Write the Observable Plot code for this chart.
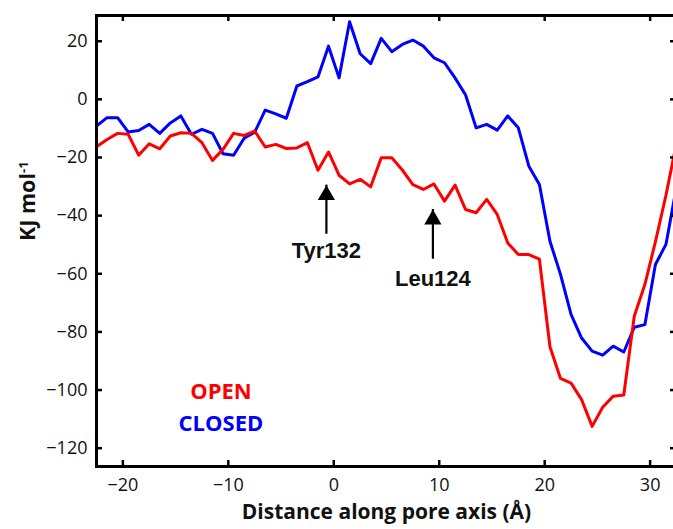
<!DOCTYPE html>
<html>
<head>
<meta charset="utf-8">
<script src="https://cdn.jsdelivr.net/npm/d3@7"></script>
<script src="https://cdn.jsdelivr.net/npm/@observablehq/plot@0.6"></script>
<style>
  html, body { margin: 0; padding: 0; background: #fff; overflow: hidden; }
  #chart { width: 673px; height: 529px; overflow: hidden; }
  #chart svg { max-width: none !important; }
</style>
</head>
<body>
<div id="chart"></div>
<script>
// Distance along pore axis (Å)
const distance = [-22.5, -21.5, -20.5, -19.5, -18.5, -17.5, -16.5, -15.5, -14.5, -13.5,
  -12.5, -11.5, -10.5, -9.5, -8.5, -7.5, -6.5, -5.5, -4.5, -3.5,
  -2.5, -1.5, -0.5, 0.5, 1.5, 2.5, 3.5, 4.5, 5.5, 6.5,
  7.5, 8.5, 9.5, 10.5, 11.5, 12.5, 13.5, 14.5, 15.5, 16.5,
  17.5, 18.5, 19.5, 20.5, 21.5, 22.5, 23.5, 24.5, 25.5, 26.5,
  27.5, 28.5, 29.5, 30.5, 31.5, 32.5];

// KJ mol-1, OPEN state (red)
const openEnergy = [-16.3, -13.8, -11.7, -12.0, -19.2, -15.3, -17.0, -12.6, -11.5, -11.7,
  -14.9, -21.0, -17.2, -11.7, -12.4, -10.9, -16.4, -15.5, -16.9, -16.7,
  -14.9, -24.4, -18.1, -26.1, -29.1, -27.5, -30.1, -20.1, -20.1, -24.3,
  -29.3, -31.0, -29.1, -35.0, -29.5, -37.9, -39.0, -34.4, -39.6, -49.4,
  -53.4, -53.4, -55.0, -85.1, -96.0, -97.6, -103.3, -112.5, -105.9, -102.1,
  -101.7, -74.5, -63.7, -49.0, -33.0, -15.0];

// KJ mol-1, CLOSED state (blue)
const closedEnergy = [-9.2, -6.3, -6.3, -11.2, -10.7, -8.6, -11.7, -8.1, -5.7, -12.0,
  -10.3, -11.7, -18.7, -19.2, -13.4, -11.3, -3.7, -5.0, -6.5, 4.6,
  6.1, 7.7, 18.3, 7.4, 26.7, 15.7, 12.3, 21.0, 16.4, 18.9,
  20.4, 18.3, 14.3, 12.6, 7.4, 1.5, -9.8, -8.6, -10.6, -5.7,
  -9.8, -23.0, -29.3, -48.8, -60.2, -74.0, -82.1, -86.6, -88.0, -84.9,
  -86.9, -78.4, -77.5, -56.8, -49.9, -30.0];

const xTicks = [-20, -10, 0, 10, 20, 30];
const yTicks = [20, 0, -20, -40, -60, -80, -100, -120];

// Residue annotations
const annLabels = ["Tyr132", "Leu124"];
const annX = [-0.7, 9.4];
const annTipY = [-29.5, -37.9];
const annTailY = [-46.4, -55.0];
const annTextY = [-52.2, -61.7];

// In-plot legend
const legendLabels = ["OPEN", "CLOSED"];
const legendColors = ["#ff0000", "#0000ff"];
const legendX = [-10.7, -10.7];
const legendY = [-100.6, -111.8];

const xLabel = "Distance along pore axis (Å)";
const yLabel = "KJ mol";
const yLabelSup = "-1";

const openData = distance.map((d, i) => ({x: d, y: openEnergy[i]}));
const closedData = distance.map((d, i) => ({x: d, y: closedEnergy[i]}));
const annData = annLabels.map((l, i) => ({label: l, x: annX[i], tip: annTipY[i], tail: annTailY[i], ty: annTextY[i]}));
const legendData = legendLabels.map((l, i) => ({label: l, color: legendColors[i], x: legendX[i], y: legendY[i]}));

const W = 680, H = 529;
const mL = 96, mR = 4, mT = 15, mB = 63;
const plotW = W - mL - mR, plotH = H - mT - mB;
const tickLen = 6;
const fmt = d3.format("d");

const chart = Plot.plot({
  width: W,
  height: H,
  marginLeft: mL,
  marginRight: mR,
  marginTop: mT,
  marginBottom: mB,
  style: {fontFamily: "'Open Sans', sans-serif", fontSize: "18px", color: "#111", background: "#fff", maxWidth: "none"},
  x: {domain: [-22.5, 32.5], ticks: xTicks, tickFormat: fmt},
  y: {domain: [-126.3, 28.85], ticks: yTicks, tickFormat: fmt},
  marks: [
    Plot.axisX({ticks: xTicks, tickFormat: fmt, tickSize: 0, tickPadding: 12, label: null}),
    Plot.axisY({ticks: yTicks, tickFormat: fmt, tickSize: 0, tickPadding: 9, label: null}),
    Plot.line(closedData, {x: "x", y: "y", stroke: "#0000ff", strokeWidth: 3, clip: true}),
    Plot.line(openData, {x: "x", y: "y", stroke: "#ff0000", strokeWidth: 3, clip: true}),
    // inward ticks
    Plot.ruleX(xTicks, {x: d => d, insetTop: plotH - tickLen, stroke: "black", strokeWidth: 2.5}),
    Plot.ruleX(xTicks, {x: d => d, insetBottom: plotH - tickLen, stroke: "black", strokeWidth: 2.5}),
    Plot.ruleY(yTicks, {y: d => d, insetRight: plotW - tickLen, stroke: "black", strokeWidth: 2.5}),
    Plot.ruleY(yTicks, {y: d => d, insetLeft: plotW - tickLen, stroke: "black", strokeWidth: 2.5}),
    Plot.frame({stroke: "black", strokeWidth: 3}),
    // annotation arrows
    Plot.ruleX(annData, {x: "x", y1: "tail", y2: "tip", stroke: "black", strokeWidth: 2.2}),
    Plot.dot(annData, {x: "x", y: "tip", symbol: "triangle", r: 6.4, fill: "black", stroke: "none", dy: 10}),
    Plot.text(annData, {x: "x", y: "ty", text: "label", fontFamily: "'Liberation Sans', Arial, sans-serif", fontWeight: "bold", fontSize: 22, fill: "#111"}),
    // legend
    Plot.text(legendData, {x: "x", y: "y", text: "label", fill: "color", fontFamily: "'Open Sans', sans-serif", fontWeight: "bold", fontSize: 22}),
    // axis titles
    Plot.text([xLabel], {frameAnchor: "bottom", dy: 52, fontFamily: "'Open Sans', sans-serif", fontWeight: "bold", fontSize: 21, fill: "#111"}),
    Plot.text([yLabel], {frameAnchor: "left", dx: -68, rotate: -90, fontFamily: "'Open Sans', sans-serif", fontWeight: "bold", fontSize: 21.5, fill: "#111"})
  ]
});

d3.select(chart).selectAll("text").filter(function () { return this.textContent === yLabel; })
  .append("tspan").attr("dy", "-0.55em").attr("font-size", "13px").text(yLabelSup);

chart.style.maxWidth = "none";
document.getElementById("chart").appendChild(chart);
</script>
</body>
</html>
